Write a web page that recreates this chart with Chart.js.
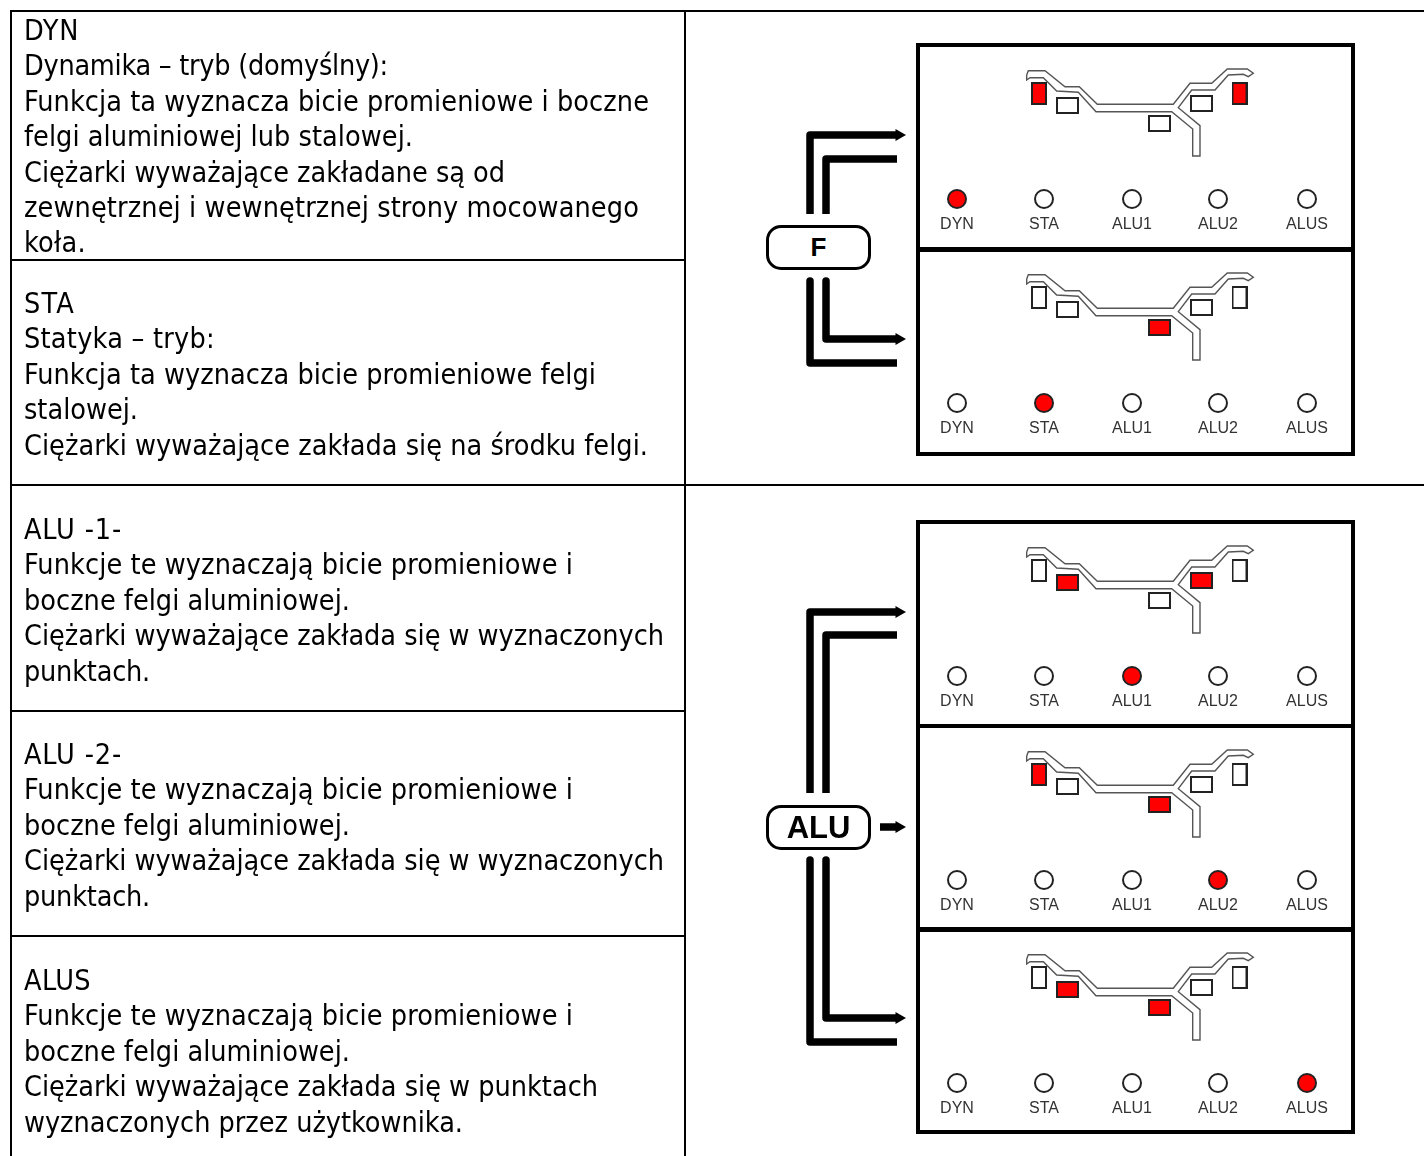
<!DOCTYPE html>
<html lang="pl">
<head>
<meta charset="UTF-8">
<title>Tryby wyważania</title>
<style>
    * { box-sizing: border-box; margin: 0; padding: 0; }
    html, body { width: 1424px; height: 1156px; overflow: hidden; background: #fff; }
    body { position: relative; font-family: "DejaVu Sans Condensed", "DejaVu Sans", sans-serif; font-stretch: condensed; color: #000; }
    .rule { position: absolute; background: #000; }
    .block { position: absolute; left: 24px; font-size: 28.5px; line-height: 35.4px; white-space: pre; }
    .block span { display: block; width: max-content; }
    .frame { position: absolute; left: 916px; width: 439px; border: 4px solid #000; }
    .btn { position: absolute; left: 766px; width: 105px; border: 3px solid #000; border-radius: 15px; background: #fff;
           display: flex; align-items: center; justify-content: center; font-family: "Liberation Sans", Arial, sans-serif; font-weight: bold; }
    canvas { position: absolute; }
</style>
<script src="https://cdn.jsdelivr.net/npm/chart.js"></script>
</head>
<body>
<canvas id="arrows" width="1424" height="1156" style="left:0;top:0"></canvas>
<script>
// Left column text, one entry per table row
const rowTops = [13, 286, 512, 737, 963];
const rowLines = [
    ['DYN', 'Dynamika – tryb (domyślny):', 'Funkcja ta wyznacza bicie promieniowe i boczne', 'felgi aluminiowej lub stalowej.', 'Ciężarki wyważające zakładane są od', 'zewnętrznej i wewnętrznej strony mocowanego', 'koła.'],
    ['STA', 'Statyka – tryb:', 'Funkcja ta wyznacza bicie promieniowe felgi', 'stalowej.', 'Ciężarki wyważające zakłada się na środku felgi.'],
    ['ALU -1-', 'Funkcje te wyznaczają bicie promieniowe i', 'boczne felgi aluminiowej.', 'Ciężarki wyważające zakłada się w wyznaczonych', 'punktach.'],
    ['ALU -2-', 'Funkcje te wyznaczają bicie promieniowe i', 'boczne felgi aluminiowej.', 'Ciężarki wyważające zakłada się w wyznaczonych', 'punktach.'],
    ['ALUS', 'Funkcje te wyznaczają bicie promieniowe i', 'boczne felgi aluminiowej.', 'Ciężarki wyważające zakłada się w punktach', 'wyznaczonych przez użytkownika.']
];
// Where each line ends in the reference
const rowEnds = [
    [79, 388, 649, 413, 505, 639, 86],
    [75, 215, 596, 138, 648],
    [122, 573, 350, 664, 150],
    [122, 573, 350, 664, 150],
    [91, 573, 350, 598, 463]
];

// Table rules: left, top, width, height
const tableRules = [
    [10, 10, 1414, 2], [10, 484, 1414, 2],
    [10, 259, 675, 2], [10, 710, 675, 2], [10, 935, 675, 2],
    [10, 10, 2, 1146], [684, 10, 2, 1146]
];

// Mode selector inside a panel
const modeLabels = ['DYN', 'STA', 'ALU1', 'ALU2', 'ALUS'];
const modeX = [40, 127, 215, 301, 390];
const modeY = 154;

// Rim cross-section outline, panel units
const rimOutline = [
    [109.7, 30], [111.3, 25.7], [128, 25.7], [148, 41.7], [162.3, 41.7], [180.3, 59.3], [256.3, 59.3],
    [273, 38.3], [294.7, 38.3], [310.3, 24], [330.3, 24], [336.3, 28.3], [331.3, 31.7], [326.3, 29.3],
    [311.3, 30], [298, 45], [274.7, 45], [261.3, 62.7], [283, 80.7], [283, 111], [275.7, 111], [275.7, 84],
    [254.7, 66.7], [179, 66.7], [161.3, 47.3], [139.7, 46], [126.3, 32.7], [113, 32.7], [109.7, 35], [109.7, 30]
];

// Weight places on the rim: outer L, inner L, centre, inner R, outer R
const weightX = [122, 150.5, 242.5, 284.5, 322.5];
const weightY = [48.5, 60.5, 78.5, 58.5, 48.5];
const weightTall = [true, false, false, false, true];

// One panel per mode: top of panel, active mode, weights lit
const panelTops = [45, 249, 522, 725.5, 929];
const panelMode = [0, 1, 2, 3, 4];
const panelWeights = [[0, 4], [2], [1, 3], [0, 2], [1, 2]];

// Outer frames: top, height
const frames = [[43, 209], [247, 209], [520, 208], [723.5, 208], [927, 207]];

// Selector buttons: label, top, height, font size
const buttons = [['F', 225, 45, 26], ['ALU', 805, 45, 31]];

// Connector lines in page units
const connectors = [
    [[810, 214], [810, 135], [897, 135]],
    [[826, 214], [826, 159], [897, 159]],
    [[826, 281], [826, 339], [897, 339]],
    [[810, 281], [810, 363], [897, 363]],
    [[810, 793], [810, 612], [897, 612]],
    [[826, 793], [826, 635], [897, 635]],
    [[826, 860], [826, 1018], [897, 1018]],
    [[810, 860], [810, 1042], [897, 1042]],
    [[880, 827], [897, 827]]
];
const arrowHeads = [[899, 135], [899, 339], [899, 612], [899, 1018], [899, 827]];

const toPts = list => list.map(p => ({ x: p[0], y: p[1] }));

function addEl(cls, css, text) {
    const el = document.createElement('div');
    el.className = cls;
    el.style.cssText = css;
    if (text) el.textContent = text;
    document.body.appendChild(el);
    return el;
}

tableRules.forEach(r => addEl('rule', `left:${r[0]}px;top:${r[1]}px;width:${r[2]}px;height:${r[3]}px`));
rowLines.forEach((lines, i) => {
    const block = addEl('block', `top:${rowTops[i]}px`);
    lines.forEach((line, k) => {
        const span = document.createElement('span');
        span.textContent = line;
        block.appendChild(span);
        // stretch the line a little so it ends where the reference does
        const w = span.getBoundingClientRect().width;
        span.style.letterSpacing = ((rowEnds[i][k] - 24 - w) / line.length) + 'px';
    });
});
frames.forEach(f => addEl('frame', `top:${f[0]}px;height:${f[1]}px`));

// Weight icons, the stock rect point style is square only
function weightIcon(tall, lit) {
    const w = tall ? 16 : 23, h = tall ? 23 : 17;
    const c = document.createElement('canvas');
    c.width = w; c.height = h;
    const g = c.getContext('2d');
    g.fillStyle = lit ? '#ff0000' : '#ffffff';
    g.strokeStyle = '#222';
    g.lineWidth = 2;
    g.fillRect(1, 1, w - 2, h - 2);
    g.strokeRect(1, 1, w - 2, h - 2);
    return c;
}

// Arrows
new Chart(document.getElementById('arrows'), {
    type: 'scatter',
    data: {
        datasets: connectors.map(line => ({
            data: toPts(line),
            showLine: true,
            borderColor: '#000',
            borderWidth: 7.5,
            borderJoinStyle: 'round',
            borderCapStyle: 'butt',
            pointRadius: 0
        })).concat([{
            data: toPts(arrowHeads),
            backgroundColor: '#000',
            borderWidth: 0,
            pointStyle: 'triangle',
            pointRotation: 90,
            pointRadius: 7
        }])
    },
    options: {
        responsive: false,
        animation: false,
        layout: { autoPadding: false, padding: 0 },
        plugins: { legend: { display: false }, tooltip: { enabled: false } },
        scales: {
            x: { display: false, min: 0, max: 1424 },
            y: { display: false, min: 0, max: 1156, reverse: true }
        }
    }
});

buttons.forEach(b => addEl('btn', `top:${b[1]}px;height:${b[2]}px;font-size:${b[3]}px`, b[0]));

// Panels
panelTops.forEach((top, i) => {
    const canvas = document.createElement('canvas');
    canvas.width = 436;
    canvas.height = 204;
    canvas.style.left = '917px';
    canvas.style.top = top + 'px';
    document.body.appendChild(canvas);
    const lit = panelWeights[i];
    new Chart(canvas, {
        type: 'scatter',
        data: {
            datasets: [
                {
                    data: toPts(rimOutline),
                    showLine: true,
                    borderColor: '#555',
                    borderWidth: 1.4,
                    pointRadius: 0
                },
                {
                    data: weightX.map((x, k) => ({ x: x, y: weightY[k] })),
                    pointStyle: weightX.map((x, k) => weightIcon(weightTall[k], lit.includes(k)))
                },
                {
                    data: modeX.map(x => ({ x: x, y: modeY })),
                    pointRadius: 9,
                    borderWidth: 2,
                    borderColor: '#222',
                    backgroundColor: modeX.map((x, k) => k === panelMode[i] ? '#ff0000' : '#ffffff')
                }
            ]
        },
        options: {
            responsive: false,
            animation: false,
            layout: { autoPadding: false, padding: 0 },
            plugins: { legend: { display: false }, tooltip: { enabled: false } },
            scales: {
                x: {
                    min: 0,
                    max: 436,
                    grid: { display: false, drawTicks: false },
                    border: { display: false },
                    afterBuildTicks: s => { s.ticks = modeX.map(v => ({ value: v })); },
                    afterFit: s => { s.height = 40; s.paddingLeft = 0; s.paddingRight = 0; },
                    ticks: {
                        autoSkip: false,
                        maxRotation: 0,
                        padding: 6,
                        color: '#333',
                        font: { family: '"Liberation Sans", Arial, sans-serif', size: 16 },
                        callback: (v, k) => modeLabels[k]
                    }
                },
                y: { display: false, min: 0, max: 164, reverse: true }
            }
        }
    });
});
</script>
</body>
</html>
